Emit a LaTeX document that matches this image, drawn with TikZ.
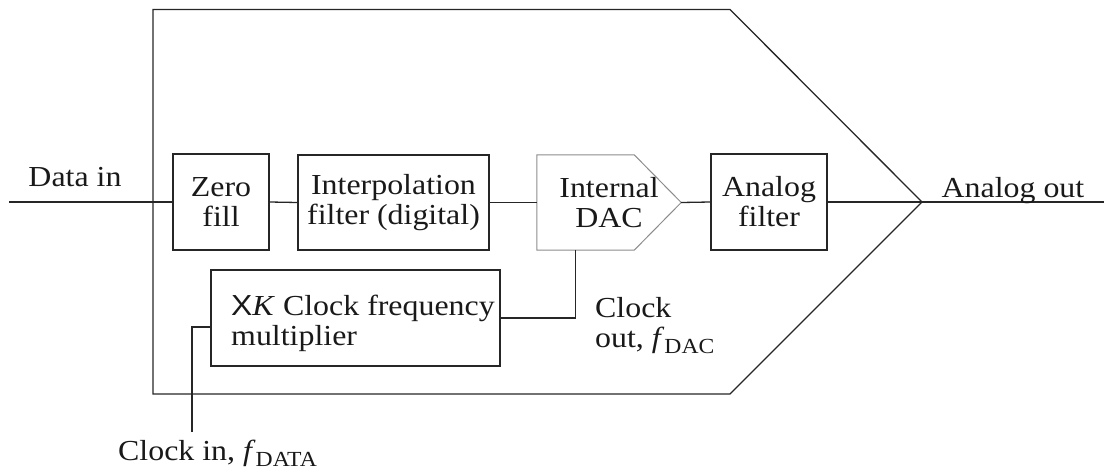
\documentclass[tikz,border=0pt]{standalone}
\usepackage{fontspec}
\setmainfont[FakeStretch=1.1]{Liberation Serif}
\newfontfamily\sansX[FakeStretch=1.1]{Liberation Sans}
\newcommand{\subtxt}[1]{\raisebox{-6pt}{\fontsize{21.5}{21.5}\selectfont #1}}
\begin{document}
\begin{tikzpicture}[x=1pt,y=-1pt,
  every node/.style={font=\fontsize{29}{30}\selectfont, text=black!90},
  wire/.style={line width=1.3pt, draw=black!85},
  blockbox/.style={draw=black!85, line width=1.3pt, minimum height=96pt, inner sep=0pt, align=center},
  txt/.style={inner sep=0pt}]
\useasboundingbox (0,0) rectangle (1104,476);
% outer DAC body
\draw[wire, line join=miter] (153,9.5) -- (730,9.5) -- (922,202) -- (730,394) -- (153,394) -- cycle;
% blocks
\node[blockbox, minimum width=96pt] (zero) at (221,202) {Zero\\fill};
\node[blockbox, minimum width=191pt, minimum height=95pt] (interp) at (393.5,202.5) {Interpolation\\filter (digital)};
\node[inner sep=0pt, minimum width=144pt, minimum height=95pt, align=center] (dac) at (609,202.5) {Internal\\DAC};
\draw[draw=black!45, line width=1pt] (dac.north west) -- ([xshift=-47pt]dac.north east) -- (dac.east) -- ([xshift=-47pt]dac.south east) -- (dac.south west) -- cycle;
\node[blockbox, minimum width=116pt] (filt) at (769,202) {Analog\\filter};
\node[blockbox, minimum width=289pt] (mult) at (355.5,318) {};
\node[txt, anchor=base west] (multA) at (231,315) {{\sansX X}\textit{K} Clock frequency};
\node[txt, anchor=base west] (multB) at (231,345) {multiplier};
% coordinates
\coordinate (din) at (9,202);
\coordinate (tip) at (922,202);
\coordinate (aout) at (1104,202);
\coordinate (clkin) at (192,432);
% connectors
\draw[wire] (din) -- (zero.west);
\draw[wire] (zero.east) -- (interp.west);
\draw[wire] (interp.east) -- (dac.west);
\draw[wire] (dac.east) -- (filt.west);
\draw[wire] (filt.east) -- (tip) -- (aout);
\draw[wire] (mult.east) -| ([xshift=39pt]dac.south west);
\draw[wire] (clkin) |- ([yshift=-9pt]mult.west);
% labels
\node[txt, anchor=base] (lbldin) at (75,186) {Data in};
\node[txt, anchor=base] (lblaout) at (1013,197) {Analog out};
\node[txt, anchor=base west] (lblco1) at (595,317) {Clock};
\node[txt, anchor=base west] (lblco2) at (595,347) {out, \textit{f}\subtxt{DAC}};
\node[txt, anchor=base west] (lblci) at (118,460) {Clock in, \textit{f}\subtxt{DATA}};
\end{tikzpicture}
\end{document}
